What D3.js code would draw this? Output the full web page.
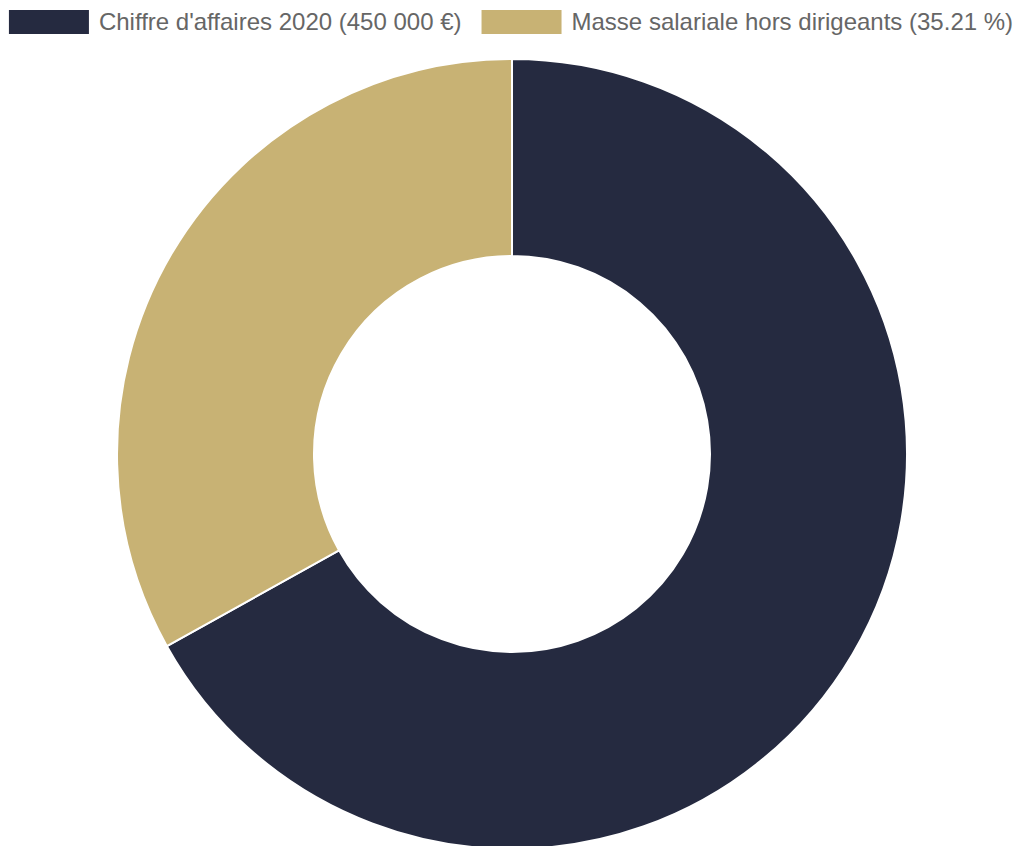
<!DOCTYPE html>
<html>
<head>
<meta charset="utf-8">
<script src="https://cdn.jsdelivr.net/npm/d3@7"></script>
<style>
  body { margin: 0; background: #fff; }
  svg { display: block; }
</style>
</head>
<body>
<script>
// Data
var labels = ["Chiffre d'affaires 2020 (450 000 €)", "Masse salariale hors dirigeants (35.21 %)"]
var values = [450000, 222500]
var colors = ["#252a40", "#c8b274"]

var width = 1022
var height = 846
var cx = 512, cy = 454
var outerR = 395, innerR = 198

var svg = d3.select("body").append("svg")
  .attr("width", width)
  .attr("height", height)

// slices go clockwise from 12 o'clock, like the original
var pie = d3.pie().sort(null).value(function(d) { return d })
var arc = d3.arc().innerRadius(innerR).outerRadius(outerR)

svg.append("g")
  .attr("transform", "translate(" + cx + "," + cy + ")")
  .selectAll("path")
  .data(pie(values))
  .enter().append("path")
  .attr("d", arc)
  .attr("fill", function(d, i) { return colors[i] })
  .attr("stroke", "#fff")
  .attr("stroke-width", 2)

// legend, centered on the top line
var boxW = 80, boxH = 24, gapText = 10, gapItem = 20
var legend = svg.append("g")
var items = legend.selectAll(".legend")
  .data(labels)
  .enter().append("g")
  .attr("class", "legend")

items.append("rect")
  .attr("width", boxW)
  .attr("height", boxH)
  .attr("y", 10)
  .attr("fill", function(d, i) { return colors[i] })

items.append("text")
  .attr("x", boxW + gapText)
  .attr("y", 22)
  .attr("dy", ".35em")
  .style("font-family", "'Liberation Sans', Arial, sans-serif")
  .style("font-size", "24px")
  .style("fill", "#666")
  .text(function(d) { return d })

var x = 0
var offsets = []
items.each(function() {
  offsets.push(x)
  x += boxW + gapText + this.querySelector("text").getComputedTextLength() + gapItem
})
var total = x - gapItem
var start = (width - total) / 2
items.attr("transform", function(d, i) { return "translate(" + (start + offsets[i]) + ",0)" })
</script>
</body>
</html>
